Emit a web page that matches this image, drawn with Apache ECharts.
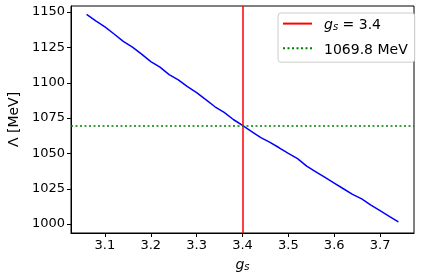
<!DOCTYPE html>
<html>
<head>
<meta charset="utf-8">
<script src="https://cdn.jsdelivr.net/npm/echarts@6/dist/echarts.min.js"></script>
<style>html,body{margin:0;padding:0;background:#fff;}#c{width:424px;height:280px;}</style>
</head>
<body>
<div id="c"></div>
<script>
// Data
const gs = [3.06,3.08,3.10,3.12,3.14,3.16,3.18,3.20,3.22,3.24,3.26,3.28,3.30,3.32,3.34,3.36,3.38,3.40,3.42,3.44,3.46,3.48,3.50,3.52,3.54,3.56,3.58,3.60,3.62,3.64,3.66,3.68,3.70,3.72,3.74];
const lambda = [1148.3,1143.8,1139.5,1134.5,1129.3,1125.2,1120.3,1115.0,1111.0,1105.8,1102.0,1097.2,1093.0,1088.0,1083.0,1079.0,1074.0,1069.8,1065.5,1061.2,1057.8,1054.0,1050.0,1046.3,1041.0,1037.0,1033.0,1029.0,1025.0,1021.0,1017.8,1013.5,1009.5,1005.5,1001.5];
const gsRef = 3.4;
const lambdaRef = 1069.8;
const xTicks = [3.1,3.2,3.3,3.4,3.5,3.6,3.7];
const yTicks = [1000,1025,1050,1075,1100,1125,1150];

const FONT = 'DejaVu Sans';
const chart = echarts.init(document.getElementById('c'), null, {renderer: 'canvas'});
const lineData = gs.map((x, i) => [x, lambda[i]]);

chart.setOption({
  animation: false,
  textStyle: {fontFamily: FONT},
  grid: {left: 71, right: 10, top: 6, bottom: 47, show: true, borderColor: '#000', borderWidth: 1, containLabel: false, outerBoundsMode: 'none'},
  xAxis: {
    type: 'value', min: 3.026, max: 3.774,
    name: '{i|g}{sub|s}', nameLocation: 'middle', nameGap: 21,
    nameTextStyle: {rich: {
      i: {fontFamily: FONT, fontSize: 14, fontStyle: 'italic', color: '#000', lineHeight: 18, verticalAlign: 'bottom'},
      sub: {fontFamily: FONT, fontSize: 10, fontStyle: 'italic', color: '#000', lineHeight: 12, verticalAlign: 'bottom'}
    }},
    axisLine: {show: true, onZero: false, lineStyle: {color: '#000', width: 1}},
    axisTick: {show: true, length: 4, lineStyle: {color: '#000'}, customValues: xTicks},
    axisLabel: {color: '#000', fontSize: 13, fontFamily: FONT, margin: 6, customValues: xTicks, formatter: v => v.toFixed(1)},
    splitLine: {show: false}
  },
  yAxis: {
    type: 'value', min: 993.7, max: 1154.3,
    name: 'Λ [MeV]', nameLocation: 'middle', nameGap: 49, nameRotate: 90,
    nameTextStyle: {color: '#000', fontSize: 14, fontFamily: FONT},
    axisLine: {show: true, onZero: false, lineStyle: {color: '#000', width: 1}},
    axisTick: {show: true, length: 4, lineStyle: {color: '#000'}, customValues: yTicks},
    axisLabel: {color: '#000', fontSize: 13, fontFamily: FONT, margin: 6, customValues: yTicks, formatter: v => String(Math.round(v))},
    splitLine: {show: false}
  },
  legend: {
    orient: 'vertical', left: 278, top: 13,
    padding: [5, 7, 5, 4], itemGap: 10, itemWidth: 29, itemHeight: 14,
    backgroundColor: '#fff', borderColor: '#cccccc', borderWidth: 1, borderRadius: 3,
    itemStyle: {opacity: 0},
    data: ['gsline', 'lamline'],
    formatter: n => n === 'gsline' ? '{i|g}{sub|s}{n| = 3.4}' : '{n|1069.8 MeV}',
    textStyle: {padding: [0, 0, 0, 7], rich: {
      i: {fontFamily: FONT, fontSize: 14, fontStyle: 'italic', color: '#000', lineHeight: 18, verticalAlign: 'bottom'},
      sub: {fontFamily: FONT, fontSize: 10, fontStyle: 'italic', color: '#000', lineHeight: 12, verticalAlign: 'bottom'},
      n: {fontFamily: FONT, fontSize: 14, color: '#000', lineHeight: 18, verticalAlign: 'bottom'}
    }}
  },
  series: [
    {name: 'curve', type: 'line', data: lineData, showSymbol: false, symbol: 'none',
     lineStyle: {color: '#0000ff', width: 1.5}, itemStyle: {color: '#0000ff'}, z: 2},
    {name: 'gsline', type: 'line', data: [], symbol: 'none', showSymbol: false,
     lineStyle: {color: '#ff0000', width: 1.5}, itemStyle: {color: '#ff0000'}, z: 3,
     markLine: {silent: true, symbol: 'none', label: {show: false},
       lineStyle: {color: '#ff0000', width: 1.5, type: 'solid'}, data: [{xAxis: gsRef}]}},
    {name: 'lamline', type: 'line', data: [], symbol: 'none', showSymbol: false,
     lineStyle: {color: '#008000', width: 1.5, type: [2, 2.5]}, itemStyle: {color: '#008000'}, z: 4,
     markLine: {silent: true, symbol: 'none', label: {show: false},
       lineStyle: {color: '#008000', width: 1.5, type: [2, 2.5]}, data: [{yAxis: lambdaRef}]}}
  ]
});
</script>
</body>
</html>
